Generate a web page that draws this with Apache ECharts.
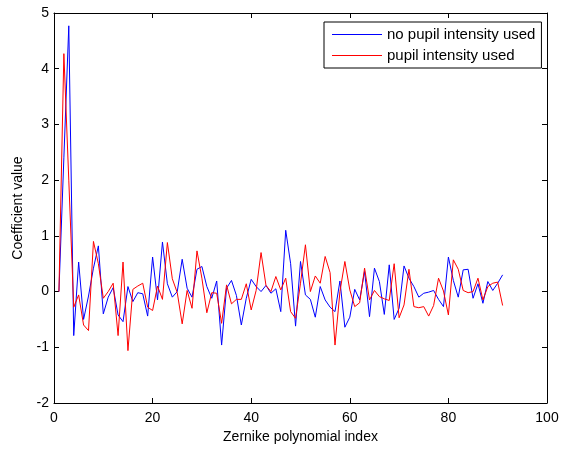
<!DOCTYPE html>
<html>
<head>
<meta charset="utf-8">
<script src="https://cdn.jsdelivr.net/npm/echarts@6/dist/echarts.min.js"></script>
<style>
  html, body { margin: 0; padding: 0; background: #fff; }
  #chart { width: 563px; height: 449px; }
</style>
</head>
<body>
<div id="chart"></div>
<script>
// Zernike coefficients, index 1..91
const noPupil = [
  0, 2.4, 4.77, -0.79, 0.53, -0.5, -0.08, 0.42, 0.82, -0.4,
  -0.1, 0.07, -0.42, -0.54, 0.09, -0.18, -0.02, -0.04, -0.44, 0.62,
  -0.15, 0.89, 0.14, -0.1, 0, 0.58, 0.06, -0.1, 0.4, 0.45,
  0.09, -0.12, 0.19, -0.96, 0.06, 0.2, -0.07, -0.6, -0.12, 0.22,
  0.09, 0, 0.11, -0.03, 0.05, -0.36, 1.1, 0.5, -0.62, 0.54,
  -0.06, -0.14, -0.46, 0.09, -0.15, -0.28, -0.36, 0.19, -0.64, -0.46,
  0.04, -0.15, 0.36, -0.45, 0.42, 0.18, -0.41, 0.48, -0.5, -0.3,
  0.46, 0.24, 0.09, -0.1, -0.03, -0.01, 0.02, -0.14, -0.27, 0.62,
  0.2, -0.1, 0.39, 0.4, -0.12, 0.14, -0.21, 0.18, 0.02, 0.15,
  0.3
]
const withPupil = [
  0, 4.27, 2.0, -0.28, -0.06, -0.6, -0.7, 0.9, 0.5, -0.12,
  0, 0.15, -0.79, 0.53, -1.06, 0.04, 0.1, 0.15, -0.28, -0.34,
  0.1, -0.14, 0.88, 0.23, -0.02, -0.58, 0.02, -0.3, 0.73, 0.24,
  -0.38, -0.02, -0.03, -0.57, 0.12, -0.22, -0.14, -0.14, 0.14, -0.33,
  0.02, 0.7, 0.11, 0, 0.27, 0.03, 0.24, -0.36, -0.48, 0.15,
  0.84, 0, 0.28, 0.15, 0.63, 0.34, -0.96, 0, 0.54, 0.03,
  -0.27, -0.2, 0.42, -0.15, 0.02, -0.09, -0.13, -0.16, 0.5, -0.47,
  -0.24, 0.4, -0.27, -0.29, -0.27, -0.44, -0.25, 0.24, 0.01, -0.42,
  0.57, 0.4, 0.02, -0.02, 0, 0.24, -0.15, 0.09, 0.15, 0.17,
  -0.25
]
const seriesNames = ['no pupil intensity used', 'pupil intensity used']
const xTicks = [0, 100, 20]   // min, max, step
const yTicks = [-2, 5, 1]

const toPairs = arr => arr.map((v, i) => [i + 1, v])

const font = 'Liberation Sans, Arial, sans-serif'
const axisBase = {
  axisLine: { show: true, onZero: false, lineStyle: { color: '#000', width: 1 } },
  axisTick: { show: true, inside: true, length: 5, lineStyle: { color: '#000' } },
  splitLine: { show: false }
}

const chart = echarts.init(document.getElementById('chart'))
chart.setOption({
  animation: false,
  backgroundColor: '#fff',
  grid: { left: 54, right: 16, top: 13, bottom: 46, containLabel: false },
  legend: {
    data: seriesNames,
    orient: 'vertical',
    left: 324,
    top: 22,
    backgroundColor: '#fff',
    borderColor: '#000',
    borderWidth: 1,
    borderRadius: 0,
    padding: [5, 6, 5, 8],
    itemGap: 6,
    itemWidth: 50,
    itemHeight: 1,
    icon: 'rect',
    textStyle: { fontFamily: font, fontSize: 15, color: '#000' }
  },
  xAxis: [
    Object.assign({}, axisBase, {
      type: 'value', position: 'bottom',
      min: xTicks[0], max: xTicks[1], interval: xTicks[2],
      axisLabel: { color: '#000', fontFamily: font, fontSize: 14, margin: 8 },
      name: 'Zernike polynomial index',
      nameLocation: 'middle',
      nameGap: 27,
      nameTextStyle: { color: '#000', fontFamily: font, fontSize: 14 }
    }),
    Object.assign({}, axisBase, {
      type: 'value', position: 'top',
      min: xTicks[0], max: xTicks[1], interval: xTicks[2],
      axisLabel: { show: false }
    })
  ],
  yAxis: [
    Object.assign({}, axisBase, {
      type: 'value', position: 'left',
      min: yTicks[0], max: yTicks[1], interval: yTicks[2],
      axisLabel: { color: '#000', fontFamily: font, fontSize: 14, margin: 5 },
      name: 'Coefficient value',
      nameLocation: 'middle',
      nameGap: 29,
      nameTextStyle: { color: '#000', fontFamily: font, fontSize: 14 }
    }),
    Object.assign({}, axisBase, {
      type: 'value', position: 'right',
      min: yTicks[0], max: yTicks[1], interval: yTicks[2],
      axisLabel: { show: false }
    })
  ],
  series: [
    {
      name: seriesNames[0],
      type: 'line',
      data: toPairs(noPupil),
      symbol: 'none',
      color: '#0000ff',
      lineStyle: { width: 1, color: '#0000ff' }
    },
    {
      name: seriesNames[1],
      type: 'line',
      data: toPairs(withPupil),
      symbol: 'none',
      color: '#ff0000',
      lineStyle: { width: 1, color: '#ff0000' }
    }
  ]
})
</script>
</body>
</html>
